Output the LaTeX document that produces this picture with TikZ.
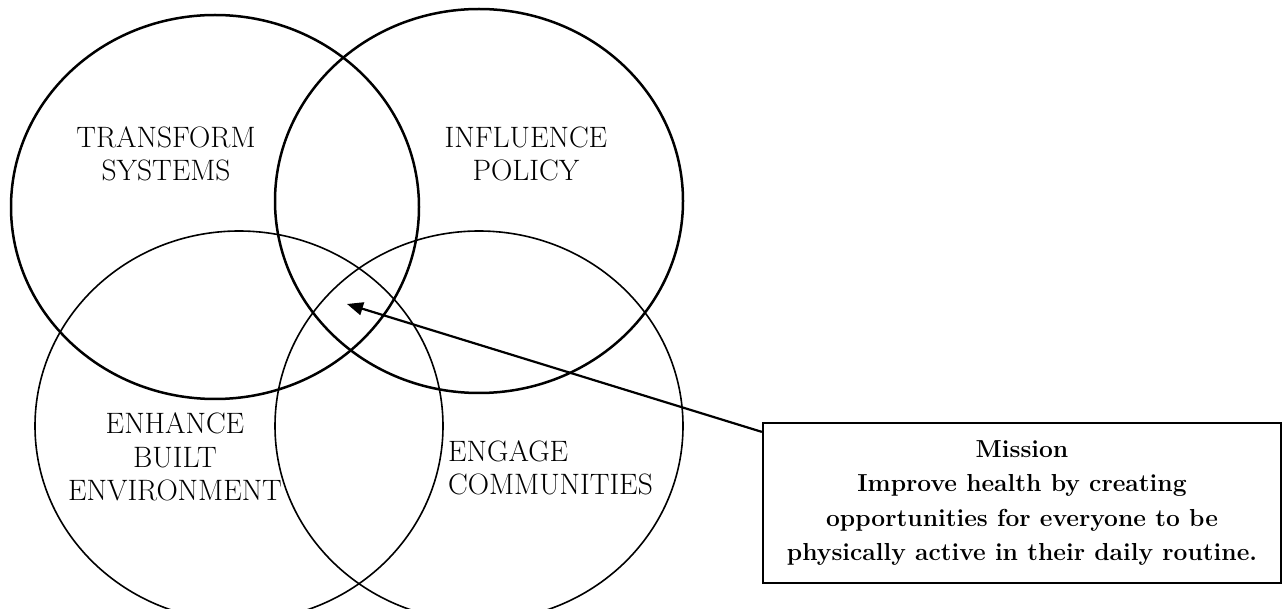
\documentclass[tikz,border=0pt]{standalone}
\usetikzlibrary{shapes.geometric,arrows.meta}
\begin{document}
\begin{tikzpicture}[x=1pt,y=-1pt,
  bigring/.style={draw,ellipse,inner sep=0pt,outer sep=0pt,minimum width=408pt},
  thickring/.style={bigring,line width=2.5pt,minimum height=384pt},
  thinring/.style={bigring,line width=1.6pt,minimum height=390pt},
  lbl/.style={font=\fontsize{29.5}{33.5}\selectfont,inner sep=0pt},
  missionbox/.style={draw,line width=2.2pt,minimum width=518pt,minimum height=160pt,inner sep=0pt,align=center,font=\fontsize{24.6}{34.5}\selectfont\bfseries},
  pointer/.style={line width=2.2pt,-{Triangle[length=16pt,width=13pt]}}]
\useasboundingbox (0,0) rectangle (1288,609);
\node[thickring] (tl) at (215,207) {};
\node[thickring] (tr) at (479,201) {};
\node[thinring] (bl) at (239,426) {};
\node[thinring] (br) at (479,426) {};
\node[lbl,align=center] (ts) at (166,154) {TRANSFORM\\SYSTEMS};
\node[lbl,align=center] (ip) at (526,154) {INFLUENCE\\POLICY};
\node[lbl,align=center] (eb) at (175,457) {ENHANCE\\BUILT\\ENVIRONMENT};
\node[lbl,align=left,anchor=west] (ec) at (448,468) {ENGAGE\\COMMUNITIES};
\node[missionbox] (mission) at (1022,503) {Mission\\Improve health by creating\\opportunities for everyone to be\\physically active in their daily routine.};
\coordinate (tip) at (347,304);
\draw[pointer] ([yshift=-10pt]mission.north west) -- (tip);
\end{tikzpicture}
\end{document}
